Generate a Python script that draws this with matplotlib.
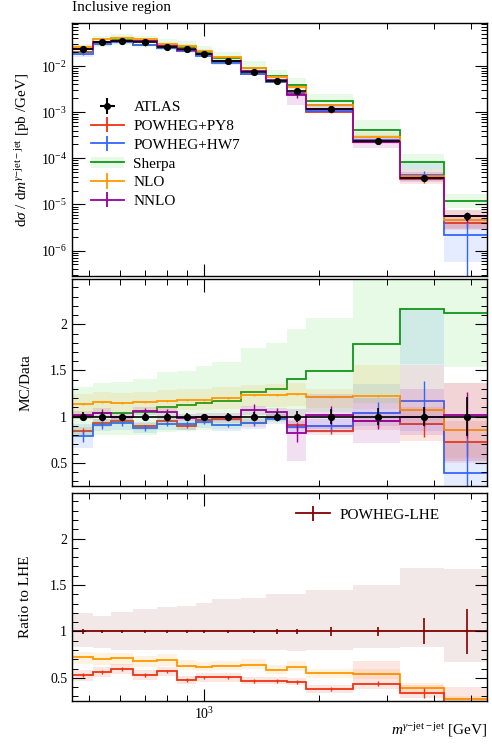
import numpy as np
import matplotlib
matplotlib.use('Agg')
import matplotlib.pyplot as plt
from matplotlib.patches import Patch
from matplotlib.ticker import MultipleLocator, NullFormatter, FormatStrFormatter, LogLocator

plt.rcParams['font.family'] = ['Liberation Serif', 'DejaVu Serif']
plt.rcParams['mathtext.fontset'] = 'custom'
plt.rcParams['mathtext.rm'] = 'Liberation Serif'
plt.rcParams['mathtext.it'] = 'Liberation Serif:italic'
plt.rcParams['mathtext.bf'] = 'Liberation Serif:bold'

# --- data ------------------------------------------------------------------
edges = np.array([450, 510, 570, 650, 750, 850, 950, 1050, 1250, 1450, 1650, 1850, 2450, 3250, 4250, 5500])

atlas = np.array([0.0234, 0.0327, 0.0355, 0.0327, 0.0263, 0.0231, 0.0179, 0.01285, 0.0073,
                  0.00465, 0.00282, 0.00118, 0.000234, 3.8e-5, 5.5e-6])
atlas_err = np.array([0.05, 0.05, 0.03, 0.04, 0.04, 0.04, 0.03, 0.04, 0.05, 0.05, 0.06, 0.08, 0.09, 0.10, 0.21])

# MC / Data ratios
py8 = np.array([0.844, 0.928, 0.957, 0.895, 0.953, 0.899, 0.965, 0.971, 0.928, 0.989, 0.913, 0.85, 0.95, 0.917, 0.728])
py8_lo = np.array([0.80, 0.89, 0.92, 0.86, 0.91, 0.86, 0.92, 0.93, 0.89, 0.95, 0.87, 0.80, 0.86, 0.74, 0.50])
py8_hi = np.array([0.89, 0.97, 0.99, 0.93, 0.99, 0.94, 0.99, 1.01, 0.97, 1.03, 0.96, 0.90, 1.05, 1.10, 0.95])
py8_err = np.array([0.03, 0.02, 0.02, 0.02, 0.02, 0.02, 0.02, 0.02, 0.02, 0.02, 0.03, 0.04, 0.06, 0.14, 0.15])

hw7 = np.array([0.79, 0.909, 0.928, 0.877, 0.924, 0.924, 0.942, 0.906, 0.928, 0.978, 0.891, 0.899, 1.04, 1.167, 0.395])
hw7_lo = np.array([0.66, 0.84, 0.86, 0.82, 0.86, 0.86, 0.88, 0.84, 0.87, 0.92, 0.83, 0.82, 0.90, 0.85, 0.10])
hw7_hi = np.array([0.92, 0.98, 1.00, 0.94, 0.99, 0.99, 1.00, 0.97, 0.99, 1.04, 0.95, 0.98, 1.35, 2.17, 0.71])
hw7_err = np.array([0.06, 0.04, 0.03, 0.03, 0.03, 0.03, 0.02, 0.02, 0.03, 0.03, 0.03, 0.05, 0.12, 0.22, 0.36])

sherpa = np.array([1.01, 1.036, 1.043, 1.054, 1.109, 1.123, 1.152, 1.17, 1.27, 1.304, 1.413, 1.49, 1.79, 2.17, 2.12])
sherpa_lo = np.array([0.78, 0.80, 0.80, 0.80, 0.83, 0.84, 0.86, 0.87, 0.92, 0.94, 1.0, 1.05, 1.15, 1.565, 1.54])
sherpa_hi = np.array([1.32, 1.37, 1.377, 1.406, 1.486, 1.496, 1.55, 1.587, 1.74, 1.80, 1.944, 2.07, 2.9, 3.2, 3.0])

nlo = np.array([1.133, 1.159, 1.144, 1.155, 1.17, 1.18, 1.18, 1.198, 1.234, 1.234, 1.249, 1.216, 1.223, 1.068, 0.852])
nlo_lo = np.array([1.03, 1.05, 1.04, 1.05, 1.06, 1.07, 1.07, 1.08, 1.11, 1.11, 1.12, 1.09, 1.08, 0.92, 0.55])
nlo_hi = np.array([1.25, 1.27, 1.26, 1.27, 1.29, 1.30, 1.30, 1.32, 1.34, 1.35, 1.36, 1.30, 1.56, 1.56, 1.36])
nlo_err = np.array([0.01, 0.01, 0.01, 0.01, 0.01, 0.01, 0.01, 0.01, 0.01, 0.01, 0.01, 0.01, 0.01, 0.01, 0.01])

nnlo = np.array([1.014, 1.043, 1.0, 1.062, 1.051, 0.99, 1.0, 0.993, 1.072, 1.047, 0.822, 1.014, 0.95, 0.995, 1.02])
nnlo_lo = np.array([0.97, 1.0, 0.96, 1.02, 1.01, 0.95, 0.96, 0.95, 1.02, 1.0, 0.52, 0.87, 0.72, 0.80, 0.52])
nnlo_hi = np.array([1.06, 1.09, 1.04, 1.10, 1.09, 1.03, 1.04, 1.04, 1.12, 1.09, 1.08, 1.25, 1.20, 1.30, 1.36])
nnlo_err = np.array([0.03, 0.04, 0.02, 0.03, 0.03, 0.02, 0.02, 0.03, 0.06, 0.05, 0.10, 0.10, 0.08, 0.10, 0.25])

# ratios to POWHEG-LHE
lhe_err = np.array([0.03, 0.02, 0.02, 0.02, 0.02, 0.02, 0.02, 0.02, 0.02, 0.03, 0.03, 0.05, 0.05, 0.14, 0.24])
lhe_lo = np.array([0.83, 0.82, 0.80, 0.80, 0.80, 0.80, 0.80, 0.80, 0.80, 0.80, 0.79, 0.80, 0.82, 0.83, 0.67])
lhe_hi = np.array([1.20, 1.163, 1.21, 1.24, 1.26, 1.27, 1.31, 1.35, 1.355, 1.40, 1.40, 1.45, 1.50, 1.68, 1.67])
nlo_lhe = np.array([0.721, 0.703, 0.71, 0.678, 0.696, 0.63, 0.612, 0.623, 0.638, 0.587, 0.62, 0.547, 0.536, 0.395, 0.268])
nlo_lhe_lo = np.array([0.65, 0.64, 0.64, 0.62, 0.63, 0.58, 0.57, 0.58, 0.59, 0.54, 0.57, 0.50, 0.49, 0.35, 0.22])
nlo_lhe_hi = np.array([0.78, 0.77, 0.77, 0.74, 0.76, 0.69, 0.67, 0.68, 0.70, 0.64, 0.68, 0.60, 0.59, 0.44, 0.30])
py8_lhe = np.array([0.533, 0.565, 0.594, 0.529, 0.569, 0.478, 0.504, 0.504, 0.467, 0.467, 0.457, 0.377, 0.438, 0.337, 0.20])
py8_lhe_lo = np.array([0.47, 0.51, 0.54, 0.48, 0.52, 0.43, 0.46, 0.46, 0.43, 0.43, 0.42, 0.34, 0.38, 0.28, 0.15])
py8_lhe_hi = np.array([0.58, 0.62, 0.65, 0.58, 0.62, 0.52, 0.55, 0.55, 0.51, 0.51, 0.50, 0.42, 0.68, 0.42, 0.40])
py8_lhe_err = np.array([0.02, 0.02, 0.02, 0.02, 0.02, 0.02, 0.02, 0.02, 0.02, 0.02, 0.02, 0.02, 0.03, 0.05, 0.05])

c_red, c_blue, c_green = '#EE3311', '#3366FF', '#109618'
c_orange, c_purple, c_lhe = '#FF9900', '#990099', '#800000'
c_green_band = '#33DD33'

centers = 0.5 * (edges[:-1] + edges[1:])
halfw = 0.5 * (edges[1:] - edges[:-1])
ones = np.ones_like(centers)

fig = plt.figure(figsize=(4.92, 7.44), dpi=100)
L, W = 72 / 492, 415 / 492
ax1 = fig.add_axes([L, 1 - 276 / 744, W, 253 / 744])
ax2 = fig.add_axes([L, 1 - 486 / 744, W, 207 / 744])
ax3 = fig.add_axes([L, 1 - 701 / 744, W, 208 / 744])


def draw_mc(ax, vals, lo, hi, err, color, band_color=None, band_alpha=0.12):
    ax.stairs(hi, edges, baseline=lo, fill=True, color=band_color or color, alpha=band_alpha, lw=0)
    ax.stairs(vals, edges, baseline=None, color=color, lw=1.3)
    if err is not None:
        ax.errorbar(centers, vals, yerr=err, fmt='none', ecolor=color, elinewidth=1.0)


mcs = [
    (py8, py8_lo, py8_hi, py8_err, c_red, None),
    (hw7, hw7_lo, hw7_hi, hw7_err, c_blue, None),
    (sherpa, sherpa_lo, sherpa_hi, None, c_green, c_green_band),
    (nlo, nlo_lo, nlo_hi, nlo_err, c_orange, None),
    (nnlo, nnlo_lo, nnlo_hi, nnlo_err, c_purple, None),
]

# top panel: absolute cross-sections
for r, lo, hi, err, c, bc in mcs:
    draw_mc(ax1, atlas * r, atlas * lo, atlas * hi, None if err is None else atlas * err, c, bc)
ax1.errorbar(centers, atlas, xerr=halfw, yerr=atlas * atlas_err, fmt='o', color='k',
             ms=4.2, elinewidth=1.2, zorder=5)
ax1.set_yscale('log')
ax1.set_ylim(2.8e-7, 0.086)
ax1.set_ylabel(r'd$\sigma$ / d$m^{\gamma\mathrm{-jet-jet}}$ [pb /GeV]', fontsize=11)

# legend in top panel
h_atlas = ax1.errorbar([np.nan], [np.nan], xerr=[1], yerr=[1], fmt='o', color='k', ms=4)
h_py8 = ax1.errorbar([np.nan], [np.nan], yerr=[1], fmt='-', color=c_red, lw=1.3)
h_hw7 = ax1.errorbar([np.nan], [np.nan], yerr=[1], fmt='-', color=c_blue, lw=1.3)
h_sh = (Patch(facecolor=c_green_band, alpha=0.12, lw=0), plt.Line2D([], [], color=c_green, lw=1.3))
h_nlo = ax1.errorbar([np.nan], [np.nan], yerr=[1], fmt='-', color=c_orange, lw=1.3)
h_nnlo = ax1.errorbar([np.nan], [np.nan], yerr=[1], fmt='-', color=c_purple, lw=1.3)
ax1.legend([h_atlas, h_py8, h_hw7, h_sh, h_nlo, h_nnlo],
           ['ATLAS', 'POWHEG+PY8', 'POWHEG+HW7', 'Sherpa', 'NLO', 'NNLO'],
           loc='upper left', bbox_to_anchor=(0.045, 0.693), frameon=False, fontsize=11,
           handlelength=2.2, handletextpad=0.6, labelspacing=0.33, borderpad=0, borderaxespad=0)

# middle panel: MC / Data
for r, lo, hi, err, c, bc in mcs:
    draw_mc(ax2, r, lo, hi, err, c, bc)
ax2.errorbar(centers, ones, xerr=halfw, yerr=atlas_err, fmt='o', color='k',
             ms=4.2, elinewidth=1.2, zorder=5)
ax2.set_ylim(0.25, 2.49)
ax2.set_ylabel('MC/Data', fontsize=11)

# bottom panel: ratio to LHE
draw_mc(ax3, ones, lhe_lo, lhe_hi, None, c_lhe, band_alpha=0.09)
draw_mc(ax3, nlo_lhe, nlo_lhe_lo, nlo_lhe_hi, None, c_orange)
draw_mc(ax3, py8_lhe, py8_lhe_lo, py8_lhe_hi, py8_lhe_err, c_red)
ax3.errorbar(centers, ones, yerr=lhe_err, fmt='none', ecolor=c_lhe, elinewidth=1.2, zorder=5)
h_lhe = ax3.errorbar([np.nan], [np.nan], yerr=[1], fmt='-', color=c_lhe, lw=1.3)
ax3.legend([h_lhe], ['POWHEG-LHE'], loc='center right', bbox_to_anchor=(0.885, 0.895),
           frameon=False, fontsize=11, handlelength=2.2, handletextpad=0.6,
           borderpad=0, borderaxespad=0)
ax3.set_ylim(0.25, 2.49)
ax3.set_ylabel('Ratio to LHE', fontsize=11)

for ax in (ax1, ax2, ax3):
    ax.set_xscale('log')
    ax.set_xlim(450, 5500)
    ax.xaxis.set_major_locator(LogLocator(base=10, numticks=5))
    ax.xaxis.set_minor_locator(LogLocator(base=10, subs=np.arange(2, 10), numticks=20))
    ax.xaxis.set_minor_formatter(NullFormatter())
    ax.tick_params(which='both', direction='in', top=True, right=True, labelsize=10)
    ax.tick_params(which='major', length=9, width=0.8)
    ax.tick_params(which='minor', length=4.5, width=0.7)
    ax.yaxis.set_label_coords(-0.096, 0.5)
    for s in ax.spines.values():
        s.set_linewidth(1.0)

for ax in (ax2, ax3):
    ax.yaxis.set_major_locator(MultipleLocator(0.5))
    ax.yaxis.set_minor_locator(MultipleLocator(0.1))
    ax.yaxis.set_major_formatter(FormatStrFormatter('%g'))

ax1.tick_params(labelbottom=False)
ax2.tick_params(labelbottom=False)

fig.text(72 / 492, 1 - 8 / 744, 'Inclusive region', ha='left', va='center', fontsize=11)
fig.text(487 / 492, 1 - 730 / 744, r'$m^{\gamma\mathrm{-jet-jet}}$ [GeV]', ha='right',
         va='center', fontsize=11)

fig.savefig('out.png', dpi=100)
